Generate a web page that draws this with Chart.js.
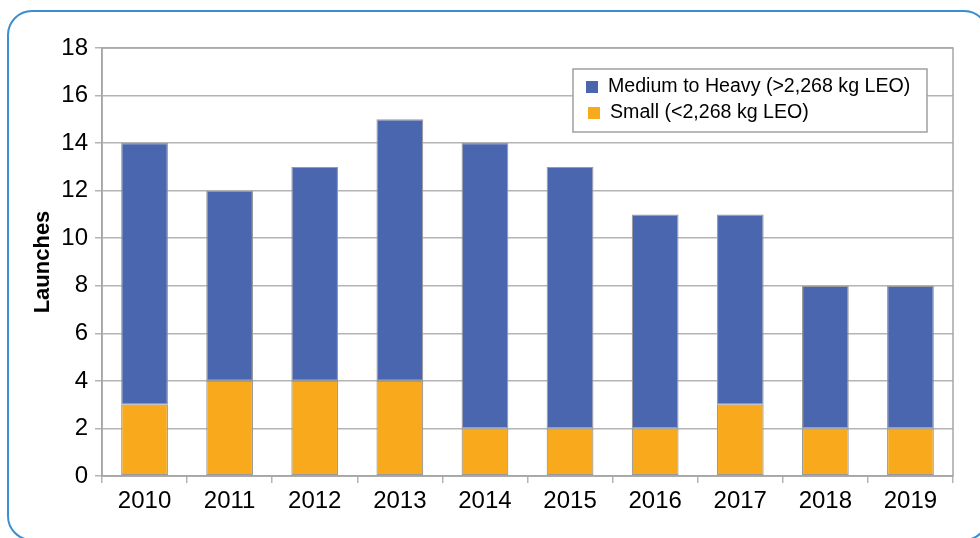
<!DOCTYPE html>
<html>
<head>
<meta charset="utf-8">
<script src="https://cdn.jsdelivr.net/npm/chart.js@4/dist/chart.umd.min.js"></script>
<style>
    html, body { margin: 0; padding: 0; background: #ffffff; overflow: hidden; }
    #wrap { position: relative; width: 980px; height: 538px; overflow: hidden; }
    #frame {
        position: absolute; left: 7px; top: 10px; width: 982px; height: 531px;
        border: 2px solid #3a8fd2; border-radius: 25px; box-sizing: border-box;
    }
    canvas { position: absolute; left: 0; top: 0; }
</style>
</head>
<body>
<div id="wrap">
    <div id="frame"></div>
    <canvas id="launchChart" width="980" height="538"></canvas>
</div>
<script>
// Launch counts by year
const years = ['2010', '2011', '2012', '2013', '2014', '2015', '2016', '2017', '2018', '2019'];
const smallLaunches = [3, 4, 4, 4, 2, 2, 2, 3, 2, 2];
const heavyLaunches = [11, 8, 9, 11, 12, 11, 9, 8, 6, 6];
const seriesNames = ['Medium to Heavy (>2,268 kg LEO)', 'Small (<2,268 kg LEO)'];

const gridColor = '#b4b4b4';
const fontFamily = '"Liberation Sans", Arial, sans-serif';

// Frame around the plot area + boxed legend in the top right
const plotExtras = {
    id: 'plotExtras',
    afterDraw(chart) {
        const ctx = chart.ctx;
        const a = chart.chartArea;
        ctx.save();
        ctx.strokeStyle = '#a6a6a6';
        ctx.lineWidth = 1.5;
        ctx.strokeRect(a.left, a.top, a.right - a.left, a.bottom - a.top);

        // legend box
        const bx = 573, by = 69, bw = 354, bh = 63;
        ctx.fillStyle = '#ffffff';
        ctx.fillRect(bx, by, bw, bh);
        ctx.strokeStyle = '#a0a0a0';
        ctx.lineWidth = 1.5;
        ctx.strokeRect(bx, by, bw, bh);

        // heavy first, small second (same as reference)
        const order = [1, 0];
        ctx.font = '19.6px ' + fontFamily;
        ctx.textBaseline = 'middle';
        order.forEach(function(dsIndex, i) {
            const ds = chart.data.datasets[dsIndex];
            const y = by + 18 + i * 26;
            ctx.fillStyle = ds.backgroundColor;
            ctx.fillRect(bx + 13 + i * 2, y - 6, 12, 12);
            ctx.fillStyle = '#000000';
            ctx.fillText(ds.label, bx + 35 + i * 2, y);
        });
        ctx.restore();
    }
};

const ctx = document.getElementById('launchChart').getContext('2d');

new Chart(ctx, {
    type: 'bar',
    data: {
        labels: years,
        datasets: [{
            label: seriesNames[1],
            data: smallLaunches,
            backgroundColor: '#f8aa1c',
            borderColor: '#9a9a9a',
            borderWidth: 1.2,
            borderSkipped: false
        }, {
            label: seriesNames[0],
            data: heavyLaunches,
            backgroundColor: '#4a66ae',
            borderColor: '#9a9a9a',
            borderWidth: 1.2,
            borderSkipped: false
        }]
    },
    options: {
        responsive: false,
        animation: false,
        layout: {
            padding: { top: 48, right: 27, left: 0, bottom: 0 }
        },
        datasets: {
            bar: {
                barPercentage: 0.55,
                categoryPercentage: 1.0
            }
        },
        plugins: {
            legend: { display: false },
            tooltip: { enabled: false }
        },
        scales: {
            x: {
                stacked: true,
                grid: {
                    display: true,
                    drawOnChartArea: false,
                    offset: true,
                    color: gridColor,
                    tickLength: 7,
                    lineWidth: 1.5
                },
                border: { color: '#a6a6a6', width: 1.5 },
                ticks: {
                    color: '#000000',
                    padding: 4,
                    font: { size: 24, family: fontFamily }
                },
                afterFit: function(scale) {
                    scale.height = 62;
                }
            },
            y: {
                stacked: true,
                min: 0,
                max: 18,
                ticks: {
                    stepSize: 2,
                    color: '#000000',
                    padding: 7,
                    font: { size: 24, family: fontFamily }
                },
                grid: {
                    color: gridColor,
                    lineWidth: 1.5,
                    tickLength: 7
                },
                border: { color: '#a6a6a6', width: 1.5 },
                title: {
                    display: true,
                    text: 'Launches',
                    color: '#000000',
                    padding: { top: 30, bottom: 0 },
                    font: { size: 22, weight: 'bold', family: fontFamily }
                },
                afterFit: function(scale) {
                    scale.width = 102;
                }
            }
        }
    },
    plugins: [plotExtras]
});
</script>
</body>
</html>
